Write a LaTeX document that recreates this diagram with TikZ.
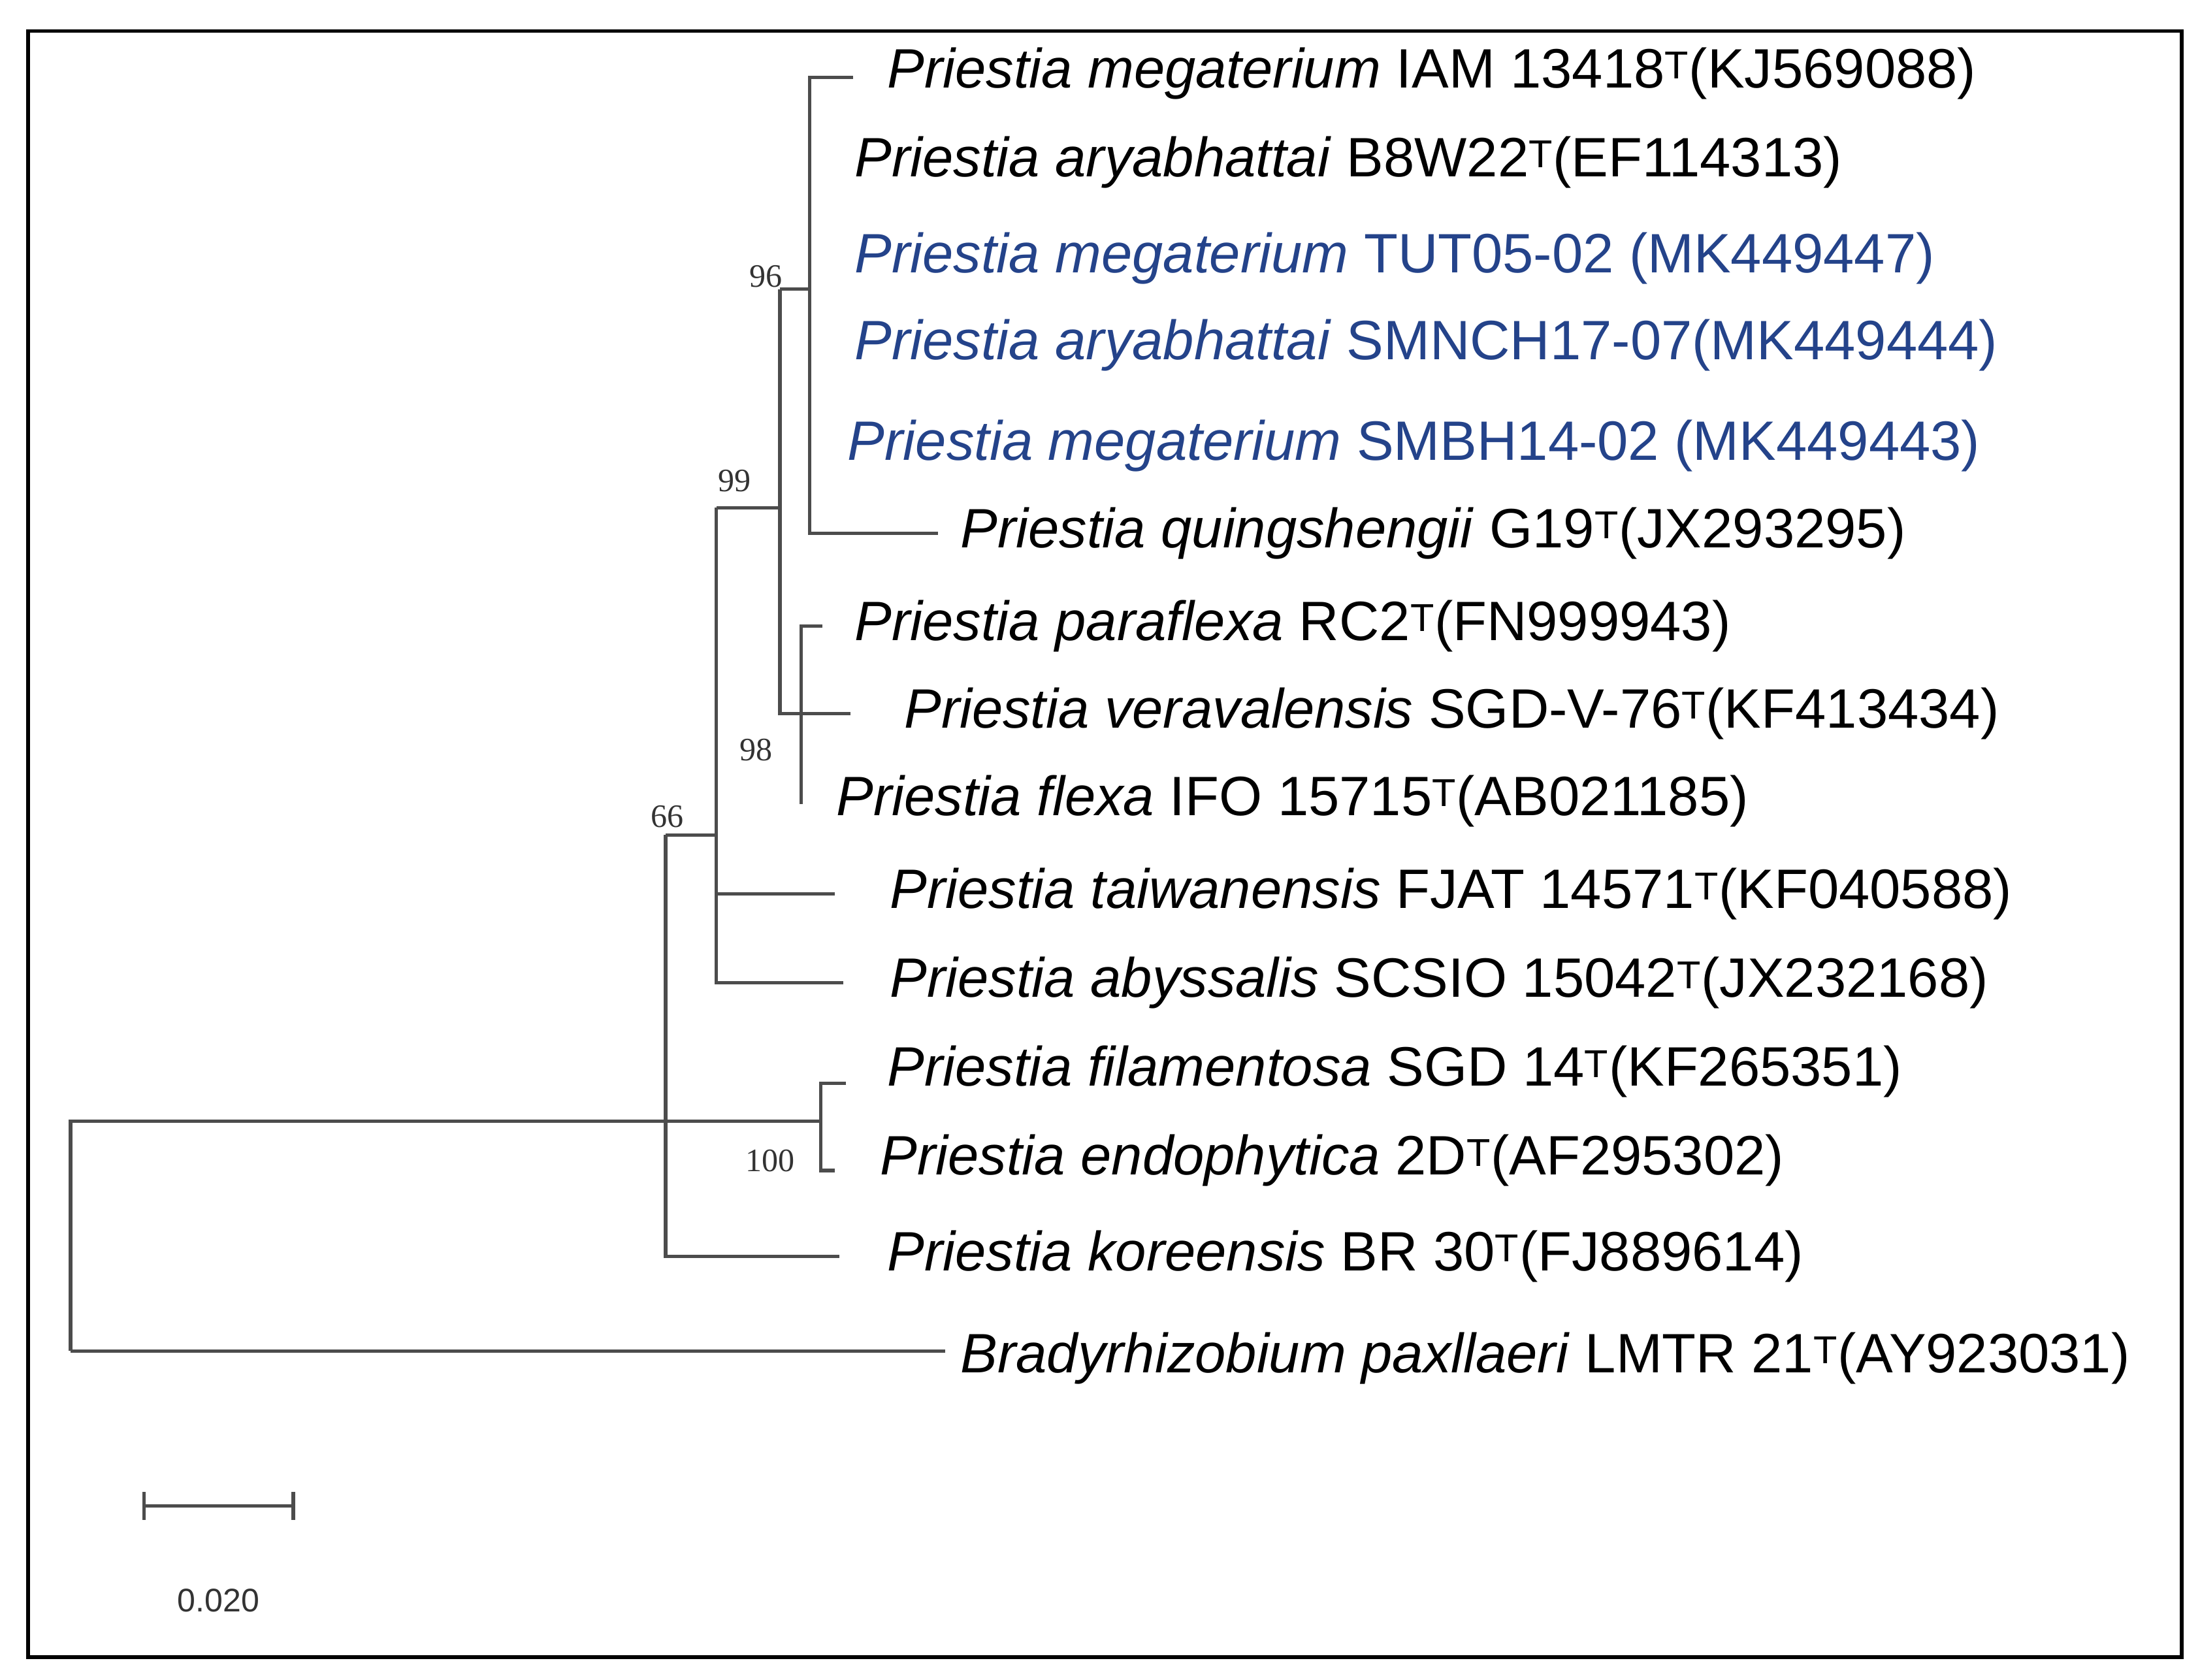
\documentclass[tikz,border=0pt]{standalone}
\usepackage{fontspec}
\setmainfont{Liberation Sans}
\newfontfamily\bsfont{Liberation Serif}
\definecolor{tblue}{HTML}{24438A}
\begin{document}
\begin{tikzpicture}[x=0.5mm,y=-0.5mm,line width=3.4pt,
  br/.style={draw=black!70},
  lf/.style={anchor=west,inner sep=0pt,font=\fontsize{56}{60}\selectfont},
  bl/.style={lf,text=tblue},
  bs/.style={font=\fontsize{33}{35}\selectfont\bsfont,text=black!80,inner sep=0pt}]
\useasboundingbox (0,0) rectangle (1560,1191);
\draw[line width=3.6pt] (20,22) rectangle (1547,1175);
% leaves
\node[lf] (l1) at (628,52) {\textit{Priestia megaterium} IAM 13418\textsuperscript{T}(KJ569088)};
\node[lf] (l2) at (605,115) {\textit{Priestia aryabhattai} B8W22\textsuperscript{T}(EF114313)};
\node[bl] (l3) at (605,183) {\textit{Priestia megaterium} TUT05-02 (MK449447)};
\node[bl] (l4) at (605,245) {\textit{Priestia aryabhattai} SMNCH17-07(MK449444)};
\node[bl] (l5) at (600,316) {\textit{Priestia megaterium} SMBH14-02 (MK449443)};
\node[lf] (l6) at (680,378) {\textit{Priestia quingshengii} G19\textsuperscript{T}(JX293295)};
\node[lf] (l7) at (605,444) {\textit{Priestia paraflexa} RC2\textsuperscript{T}(FN999943)};
\node[lf] (l8) at (640,506) {\textit{Priestia veravalensis} SGD-V-76\textsuperscript{T}(KF413434)};
\node[lf] (l9) at (592,568) {\textit{Priestia flexa} IFO 15715\textsuperscript{T}(AB021185)};
\node[lf] (l10) at (630,634) {\textit{Priestia taiwanensis} FJAT 14571\textsuperscript{T}(KF040588)};
\node[lf] (l11) at (630,697) {\textit{Priestia abyssalis} SCSIO 15042\textsuperscript{T}(JX232168)};
\node[lf] (l12) at (628,760) {\textit{Priestia filamentosa} SGD 14\textsuperscript{T}(KF265351)};
\node[lf] (l13) at (623,823) {\textit{Priestia endophytica} 2D\textsuperscript{T}(AF295302)};
\node[lf] (l14) at (628,891) {\textit{Priestia koreensis} BR 30\textsuperscript{T}(FJ889614)};
\node[lf] (l15) at (680,963) {\textit{Bradyrhizobium paxllaeri} LMTR 21\textsuperscript{T}(AY923031)};
% tree
\draw[br] (50,958) -- (50,795) -- (472,795);
\draw[br] (50,958) -- (670,958);
\draw[br] (472,592) -- (472,891) -- (595,891);
\draw[br] (472,795) -- (582,795);
\draw[br] (600,768) -- (582,768) -- (582,830) -- (592,830);
\draw[br] (472,592) -- (508,592);
\draw[br] (508,360) -- (508,697) -- (598,697);
\draw[br] (508,634) -- (592,634);
\draw[br] (508,360) -- (553,360);
\draw[br] (553,205) -- (553,506) -- (603,506);
\draw[br] (583,444) -- (568,444) -- (568,570);
\draw[br] (553,205) -- (574,205);
\draw[br] (605,55) -- (574,55) -- (574,378) -- (665,378);
% bootstrap
\node[bs] at (543,196) {96};
\node[bs] at (521,341) {99};
\node[bs] at (536,532) {98};
\node[bs] at (473,579) {66};
\node[bs] at (546,823) {100};
% scale bar
\draw[br] (102,1068) -- (208,1068);
\draw[br] (102,1058) -- (102,1078);
\draw[br] (208,1058) -- (208,1078);
\node[inner sep=0pt,font=\fontsize{33}{35}\selectfont,text=black!80] at (155,1135) {0.020};
\end{tikzpicture}
\end{document}
